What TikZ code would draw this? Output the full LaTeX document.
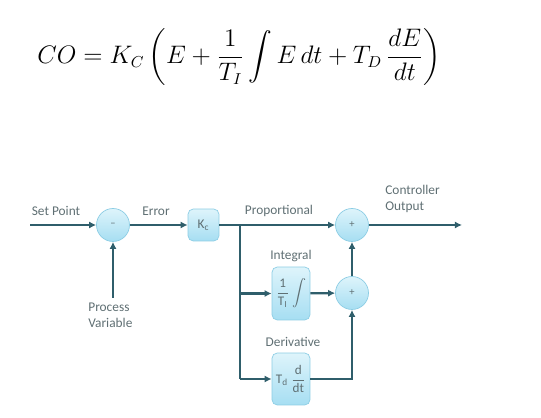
\documentclass[tikz,border=0pt]{standalone}
\usepackage{amsmath,amssymb}
\usepackage{fontspec}
\setsansfont{Carlito}
\usepackage{xcolor}
\usepackage{tikz}
\usetikzlibrary{positioning,arrows.meta}
\definecolor{linecol}{RGB}{47,94,107}
\definecolor{txtcol}{RGB}{95,111,115}
\definecolor{boxtop}{RGB}{222,244,251}
\definecolor{boxbot}{RGB}{166,222,242}
\definecolor{boxline}{RGB}{140,205,228}

\begin{document}
\begin{tikzpicture}[x=0.02cm,y=-0.02cm,
  font=\sffamily\fontsize{7.6}{9}\selectfont,
  arr/.style={-{Latex[length=4pt,width=4pt]},line width=1.3pt,draw=linecol},
  wire/.style={line width=1.3pt,draw=linecol},
  lbl/.style={text=txtcol,align=center,inner sep=0pt},
  blk/.style={draw=boxline,rounded corners=3pt,top color=boxtop,bottom color=boxbot,text=txtcol,inner sep=1pt},
  sum/.style={draw=boxline,circle,top color=boxtop,bottom color=boxbot,text=txtcol,minimum size=0.66cm,inner sep=0pt,font=\sffamily\fontsize{6}{6}\selectfont}]
\useasboundingbox (0,0) rectangle (541,418);
% equation
\node[inner sep=0pt] (eq) at (239,57) {\fontsize{13.5}{16}\selectfont$CO=K_C\left(E+\dfrac{1}{T_I}\displaystyle\int E\,dt+T_D\,\dfrac{dE}{dt}\right)$};
% blocks
\node[sum] (err) at (113,225) {--};
\node[blk,minimum width=0.62cm,minimum height=0.64cm] (kc) at (203.5,225) {K\textsubscript{c}};
\node[blk,minimum width=0.76cm,minimum height=1.06cm,font=\fontsize{7.5}{9}\selectfont] (integ) at (291,293.5) {$\dfrac{\mathsf{1}}{\mathsf{T_I}}\displaystyle\int$};
\node[blk,minimum width=0.76cm,minimum height=1.04cm,font=\fontsize{7.5}{9}\selectfont] (deriv) at (291,379) {$\mathsf{T_d}\,\dfrac{\mathsf{d}}{\mathsf{dt}}$};
\node[sum] (sumA) at (352,225) {+};
\node[sum] (sumB) at (352,293) {+};
\coordinate (sp) at (30,225);
\coordinate (pv) at (113,298);
\coordinate (br) at (240,225);
\coordinate (out) at (462,225);
% connectors
\draw[arr] (sp) -- (err);
\draw[arr] (pv) -- (err);
\draw[arr] (err) -- (kc);
\draw[arr] (kc) -- (sumA);
\draw[wire] (br) |- (deriv.west -| br);
\draw[arr] (integ.west -| br) -- (integ);
\draw[arr] (deriv.west -| br) -- (deriv);
\draw[arr] (integ) -- (sumB);
\draw[arr] (deriv) -| (sumB);
\draw[arr] (sumB) -- (sumA);
\draw[arr] (sumA) -- (out);
% labels
\node[lbl] at (56,211) {Set Point};
\node[lbl] at (156,211) {Error};
\node[lbl] at (279,211) {Proportional};
\node[lbl,align=left,anchor=west] at (385,199) {Controller\\Output};
\node[lbl] at (291,256) {Integral};
\node[lbl] at (293,342) {Derivative};
\node[lbl,align=left,anchor=west] at (88,315) {Process\\Variable};
\end{tikzpicture}
\end{document}
